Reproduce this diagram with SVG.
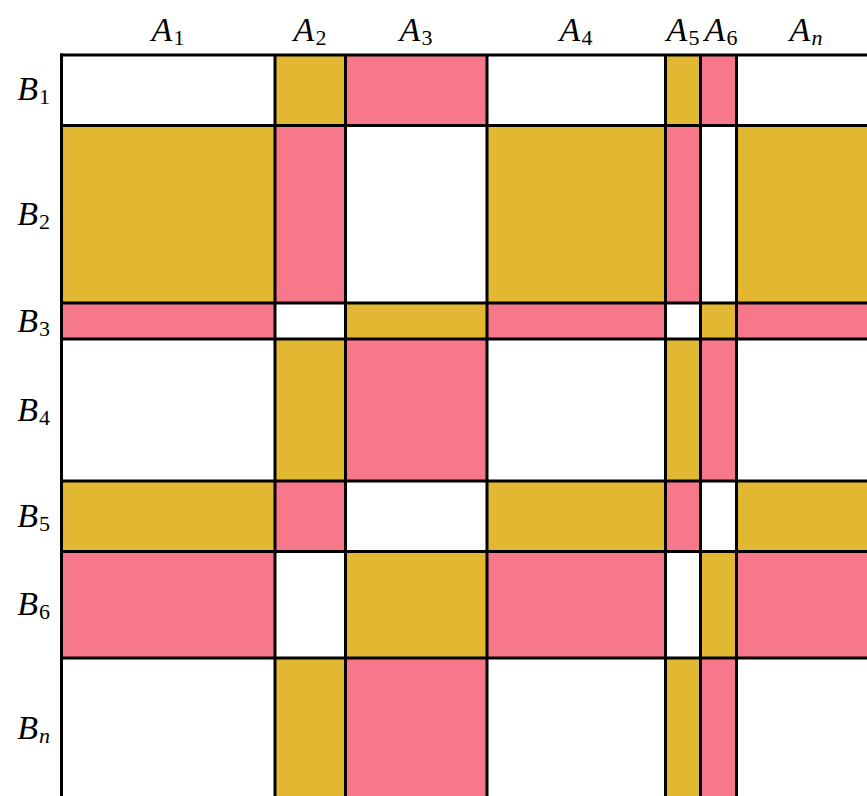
<svg xmlns="http://www.w3.org/2000/svg" width="867" height="796" viewBox="0 0 867 796">
<style>
.g{fill:#E2B832}
.p{fill:#F6788A}
.ln{stroke:#000;stroke-width:3;fill:none}
.lb{font-family:"Liberation Serif","DejaVu Serif",serif;font-size:34px;fill:#000}
.lb .v{font-style:italic}
.lb .s{font-size:22px}
</style>
<rect width="867" height="796" fill="#fff"/>
<g id="cells">
<rect class="g" x="275" y="55" width="70.5" height="70.5"/>
<rect class="p" x="345.5" y="55" width="141.5" height="70.5"/>
<rect class="g" x="665.5" y="55" width="35" height="70.5"/>
<rect class="p" x="700.5" y="55" width="36" height="70.5"/>
<rect class="g" x="61.5" y="125.5" width="213.5" height="177.5"/>
<rect class="p" x="275" y="125.5" width="70.5" height="177.5"/>
<rect class="g" x="487" y="125.5" width="178.5" height="177.5"/>
<rect class="p" x="665.5" y="125.5" width="35" height="177.5"/>
<rect class="g" x="736.5" y="125.5" width="130.5" height="177.5"/>
<rect class="p" x="61.5" y="303" width="213.5" height="36"/>
<rect class="g" x="345.5" y="303" width="141.5" height="36"/>
<rect class="p" x="487" y="303" width="178.5" height="36"/>
<rect class="g" x="700.5" y="303" width="36" height="36"/>
<rect class="p" x="736.5" y="303" width="130.5" height="36"/>
<rect class="g" x="275" y="339" width="70.5" height="142"/>
<rect class="p" x="345.5" y="339" width="141.5" height="142"/>
<rect class="g" x="665.5" y="339" width="35" height="142"/>
<rect class="p" x="700.5" y="339" width="36" height="142"/>
<rect class="g" x="61.5" y="481" width="213.5" height="70.5"/>
<rect class="p" x="275" y="481" width="70.5" height="70.5"/>
<rect class="g" x="487" y="481" width="178.5" height="70.5"/>
<rect class="p" x="665.5" y="481" width="35" height="70.5"/>
<rect class="g" x="736.5" y="481" width="130.5" height="70.5"/>
<rect class="p" x="61.5" y="551.5" width="213.5" height="106.5"/>
<rect class="g" x="345.5" y="551.5" width="141.5" height="106.5"/>
<rect class="p" x="487" y="551.5" width="178.5" height="106.5"/>
<rect class="g" x="700.5" y="551.5" width="36" height="106.5"/>
<rect class="p" x="736.5" y="551.5" width="130.5" height="106.5"/>
<rect class="g" x="275" y="658" width="70.5" height="138"/>
<rect class="p" x="345.5" y="658" width="141.5" height="138"/>
<rect class="g" x="665.5" y="658" width="35" height="138"/>
<rect class="p" x="700.5" y="658" width="36" height="138"/>
</g>
<g id="gridlines" class="ln">
<path d="M61.5 53.5V796M275 55V796M345.5 55V796M487 55V796M665.5 55V796M700.5 55V796M736.5 55V796"/>
<path d="M60 55H867M61.5 125.5H867M61.5 303H867M61.5 339H867M61.5 481H867M61.5 551.5H867M61.5 658H867"/>
</g>
<g id="col-labels" class="lb" text-anchor="middle">
<text x="168" y="41"><tspan class="v">A</tspan><tspan class="s" dx="1" dy="4">1</tspan></text>
<text x="310" y="41"><tspan class="v">A</tspan><tspan class="s" dx="1" dy="4">2</tspan></text>
<text x="416" y="41"><tspan class="v">A</tspan><tspan class="s" dx="1" dy="4">3</tspan></text>
<text x="576" y="41"><tspan class="v">A</tspan><tspan class="s" dx="1" dy="4">4</tspan></text>
<text x="683" y="41"><tspan class="v">A</tspan><tspan class="s" dx="1" dy="4">5</tspan></text>
<text x="721" y="41"><tspan class="v">A</tspan><tspan class="s" dx="1" dy="4">6</tspan></text>
<text x="806" y="41"><tspan class="v">A</tspan><tspan class="s v" dx="1" dy="4">n</tspan></text>
</g>
<g id="row-labels" class="lb" text-anchor="end">
<text x="50" y="100"><tspan class="v">B</tspan><tspan class="s" dx="1" dy="4">1</tspan></text>
<text x="50" y="225"><tspan class="v">B</tspan><tspan class="s" dx="1" dy="4">2</tspan></text>
<text x="50" y="332"><tspan class="v">B</tspan><tspan class="s" dx="1" dy="4">3</tspan></text>
<text x="50" y="421"><tspan class="v">B</tspan><tspan class="s" dx="1" dy="4">4</tspan></text>
<text x="50" y="527"><tspan class="v">B</tspan><tspan class="s" dx="1" dy="4">5</tspan></text>
<text x="50" y="615"><tspan class="v">B</tspan><tspan class="s" dx="1" dy="4">6</tspan></text>
<text x="50" y="739"><tspan class="v">B</tspan><tspan class="s v" dx="1" dy="4">n</tspan></text>
</g>
</svg>
